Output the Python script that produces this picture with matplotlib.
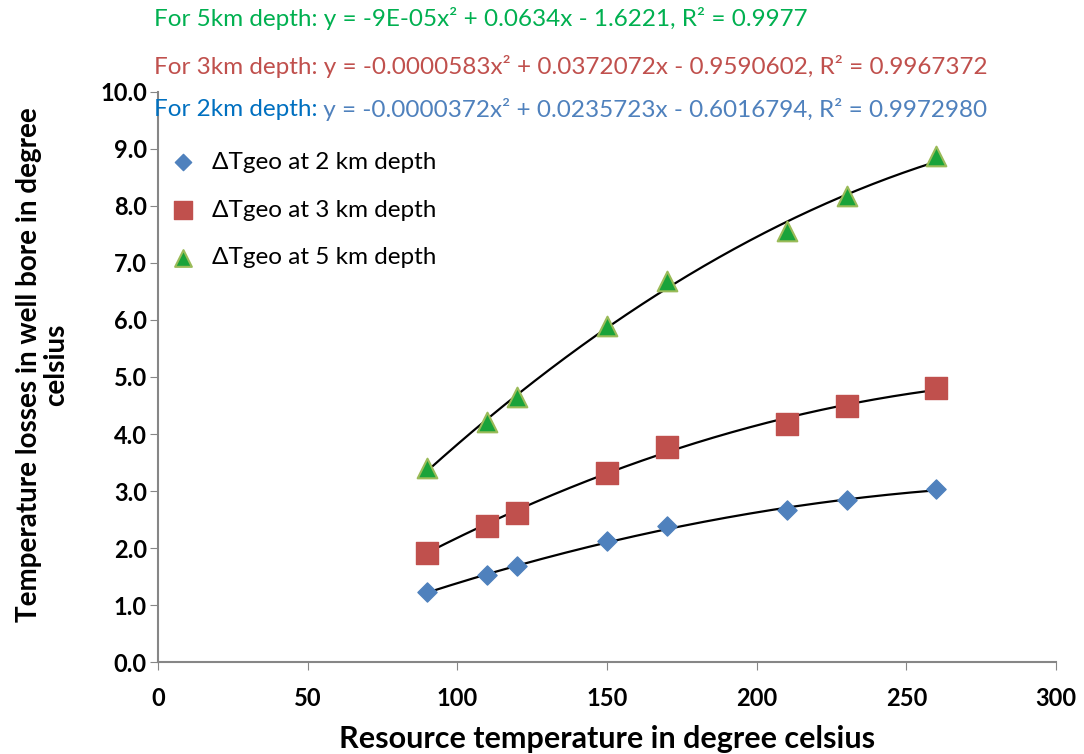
import numpy as np
import matplotlib.pyplot as plt

plt.rcParams['font.family'] = ['Lato', 'DejaVu Sans']

temp = [90, 110, 120, 150, 170, 210, 230, 260]
loss_2km = [1.23, 1.53, 1.68, 2.12, 2.39, 2.67, 2.84, 3.03]
loss_3km = [1.91, 2.39, 2.61, 3.32, 3.77, 4.18, 4.49, 4.81]
loss_5km = [3.40, 4.21, 4.65, 5.89, 6.68, 7.56, 8.18, 8.88]

# trendline coefficients as printed on the chart (a, b, c)
fit_2km = [-0.0000372, 0.0235723, -0.6016794]
fit_3km = [-0.0000583, 0.0372072, -0.9590602]
fit_5km = [-9e-05, 0.0634, -1.6221]

fig = plt.figure(figsize=(10.84, 7.54), dpi=100)
ax = fig.add_axes([0.1458, 0.122, 0.8284, 0.756])

xs = np.linspace(min(temp), max(temp), 200)
for coef in (fit_2km, fit_3km, fit_5km):
    ax.plot(xs, np.polyval(coef, xs), color='black', lw=1.6, zorder=2)

ax.scatter(temp, loss_2km, marker='D', s=95, color='#4F81BD', edgecolor='#4F81BD',
           label='ΔTgeo at 2 km depth', zorder=3)
ax.scatter(temp, loss_3km, marker='s', s=230, color='#C0504D', edgecolor='#C0504D',
           label='ΔTgeo at 3 km depth', zorder=3)
ax.scatter(temp, loss_5km, marker='^', s=200, color='#1AA33A', edgecolor='#9BBB59',
           linewidth=1.5, label='ΔTgeo at 5 km depth', zorder=3)

ax.set_xlim(0, 300)
ax.set_ylim(0, 10)
ax.set_xticks(range(0, 301, 50))
ax.set_yticks(np.arange(0, 10.1, 1.0))
ax.set_yticklabels([f'{v:.1f}' for v in np.arange(0, 10.1, 1.0)])
for lab in ax.get_xticklabels() + ax.get_yticklabels():
    lab.set_fontweight('bold')
    lab.set_fontsize(17)
ax.tick_params(axis='x', direction='out', length=6, color='#868686', pad=12)
ax.tick_params(axis='y', direction='out', length=6, color='#868686', pad=2)
for sp in ['top', 'right']:
    ax.spines[sp].set_visible(False)
for sp in ['left', 'bottom']:
    ax.spines[sp].set_color('#868686')
    ax.spines[sp].set_linewidth(1.5)

ax.set_xlabel('Resource temperature in degree celsius', fontsize=22, fontweight='bold')
ax.xaxis.set_label_coords(0.5, -0.11)
ax.set_ylabel('Temperature losses in well bore in degree\ncelsius', fontsize=20,
              fontweight='bold', linespacing=1.05)
ax.yaxis.set_label_coords(-0.099, 0.521)

leg = ax.legend(loc='upper left', bbox_to_anchor=(-0.018, 0.925), frameon=False, fontsize=17.5,
                handletextpad=0.2, labelspacing=1.1, scatterpoints=1, markerscale=0.85,
                borderaxespad=0.3)

eq_size = 17.5
fig.text(0.142, 0.976, 'For 5km depth: y = -9E-05x² + 0.0634x - 1.6221, R² = 0.9977',
         color='#00B050', fontsize=eq_size, va='center')
fig.text(0.142, 0.912, 'For 3km depth: y = -0.0000583x² + 0.0372072x - 0.9590602, R² = 0.9967372',
         color='#C0504D', fontsize=eq_size, va='center')
t2 = fig.text(0.142, 0.855, 'For 2km depth:', color='#0070C0', fontsize=eq_size, va='center')
ax.annotate(' y = -0.0000372x² + 0.0235723x - 0.6016794, R² = 0.9972980',
            xy=(1, 0.5), xycoords=t2, va='center', ha='left',
            color='#4F81BD', fontsize=eq_size, annotation_clip=False)

fig.savefig('out.png', dpi=100)
